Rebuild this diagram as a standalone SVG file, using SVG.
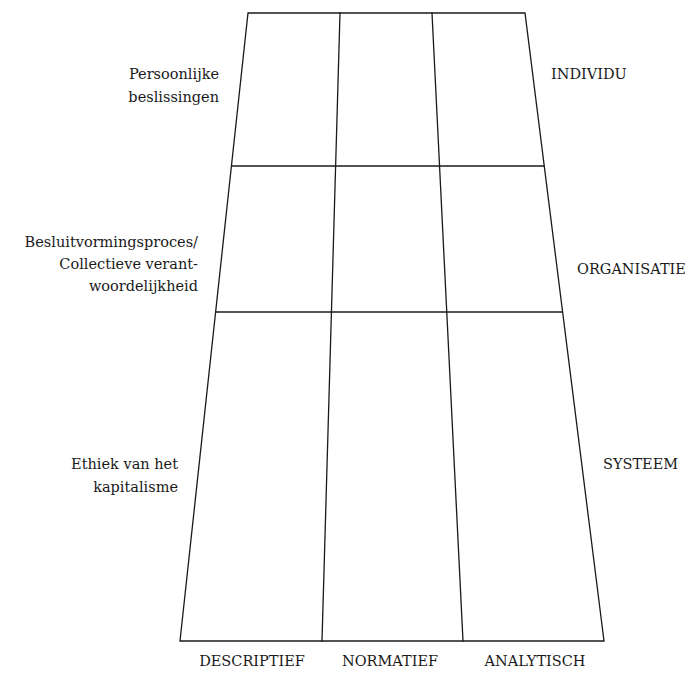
<svg xmlns="http://www.w3.org/2000/svg" width="695" height="676" viewBox="0 0 695 676">
<style>
.ln{stroke:#1a1a1a;stroke-width:1.3;fill:none;stroke-linecap:square}
.t{font-family:"DejaVu Serif","Liberation Serif",serif;font-size:14.5px;fill:#1a1a1a}
.r{text-anchor:end}
.m{text-anchor:middle}
.s{text-anchor:start}
</style>
<rect width="695" height="676" fill="#fff"/>
<g id="grid">
<polygon class="ln" points="248,13 525,13 604,641 180,641"/>
<line class="ln" x1="340" y1="13" x2="322" y2="641"/>
<line class="ln" x1="432" y1="13" x2="463" y2="641"/>
<line class="ln" x1="232" y1="166" x2="544" y2="166"/>
<line class="ln" x1="216" y1="312" x2="562" y2="312"/>
</g>
<g id="row-labels-left">
<text class="t r" x="219" y="79">Persoonlijke</text>
<text class="t r" x="219" y="102">beslissingen</text>
<text class="t r" x="198" y="247">Besluitvormingsproces/</text>
<text class="t r" x="198" y="269">Collectieve verant-</text>
<text class="t r" x="198" y="291">woordelijkheid</text>
<text class="t r" x="178" y="469">Ethiek van het</text>
<text class="t r" x="178" y="492">kapitalisme</text>
</g>
<g id="row-labels-right">
<text class="t s" x="551" y="79">INDIVIDU</text>
<text class="t s" x="577" y="274">ORGANISATIE</text>
<text class="t s" x="603" y="469">SYSTEEM</text>
</g>
<g id="column-labels">
<text class="t m" x="252" y="666">DESCRIPTIEF</text>
<text class="t m" x="390" y="666">NORMATIEF</text>
<text class="t m" x="535" y="666">ANALYTISCH</text>
</g>
</svg>
